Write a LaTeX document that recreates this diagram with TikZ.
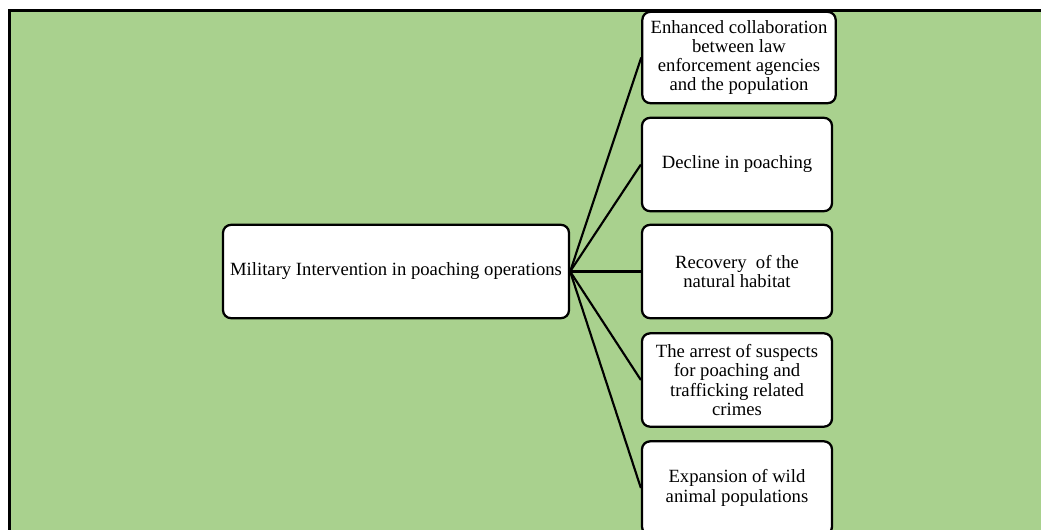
\documentclass[tikz,border=0pt]{standalone}
\usepackage{fontspec}
\setmainfont{Liberation Serif}
\definecolor{fieldgreen}{HTML}{A9D18E}
\tikzset{
  outcome/.style={draw, line width=1.7pt, rounded corners=6pt, fill=white,
    align=center, minimum width=142.5pt, minimum height=70pt, inner sep=2pt,
    font=\fontsize{14}{14.4}\selectfont},
  link/.style={line width=1.6pt}
}
\begin{document}
\begin{tikzpicture}[x=0.75pt,y=-0.75pt]
  %%%%% FRAME %%%%%
  \useasboundingbox (0,0) rectangle (1041,529);
  \clip (0,0) rectangle (1041,529);
  \draw[line width=2.4pt, fill=fieldgreen] (9.5,10.5) rectangle (1060,550);

  %%%%% BOXES %%%%%
  \node[outcome, minimum width=259.5pt] (hub) at (396,271.5) {Military Intervention in poaching operations};

  \node[outcome, minimum width=145pt, minimum height=68.5pt] (o1) at (739,57.5) {Enhanced collaboration\\between law\\enforcement agencies\\and the population};
  \node[outcome] (o2) at (737,164.5) {Decline in poaching};
  \node[outcome] (o3) at (737,271.5) {Recovery\ \ of the\\natural habitat};
  \node[outcome] (o4) at (737,380) {The arrest of suspects\\for poaching and\\trafficking related\\crimes};
  \node[outcome] (o5) at (737,488) {Expansion of wild\\animal populations};

  %%%%% LINKS %%%%%
  \foreach \n in {1,...,5}
    \draw[link] (hub.east) -- (o\n.west);
\end{tikzpicture}
\end{document}
